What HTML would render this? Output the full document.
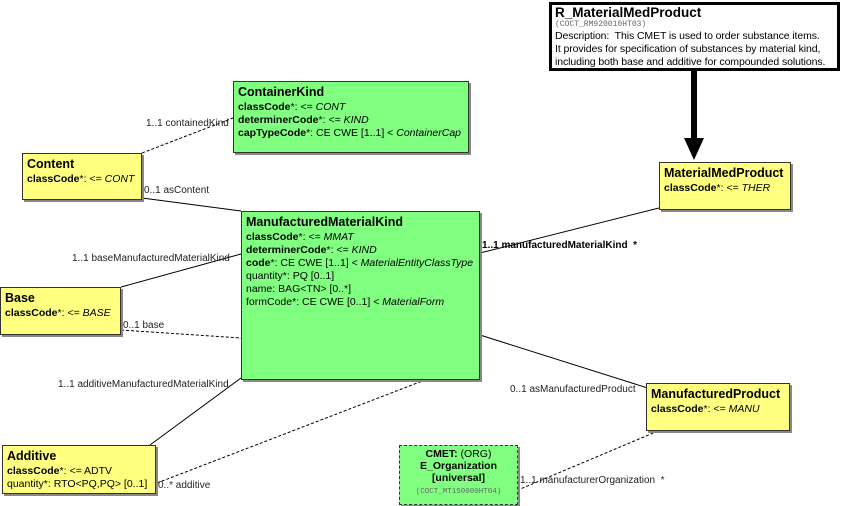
<!DOCTYPE html>
<html><head><meta charset="utf-8"><style>
body{margin:0;width:844px;height:506px;background:#fff;position:relative;overflow:hidden;font-family:"Liberation Sans",Arial,sans-serif;font-size:10.5px;color:#000}
.b{position:absolute;box-sizing:border-box;border:1px solid #333;padding:2px 4px;line-height:13px;box-shadow:2px 2px 0 #888}
.y{background:#ffff80}.g{background:#80ff80}
.t{font-weight:bold;font-size:12.5px;line-height:17px}
.l{position:absolute;font-size:10px;white-space:nowrap;color:#222}
i{font-style:italic}
svg{position:absolute;left:0;top:0}
</style></head><body>
<svg width="844" height="506">
<g stroke="#000" stroke-width="1" fill="none">
<line x1="142" y1="153" x2="233" y2="118" stroke-dasharray="3,2"/>
<line x1="142" y1="198" x2="241" y2="211"/>
<line x1="121" y1="287" x2="241" y2="254"/>
<line x1="121" y1="330" x2="241" y2="338" stroke-dasharray="3,2"/>
<line x1="150" y1="445" x2="241" y2="378"/>
<line x1="157" y1="483" x2="425" y2="380" stroke-dasharray="3,2"/>
<line x1="480" y1="253" x2="659" y2="208"/>
<line x1="480" y1="335" x2="654" y2="390"/>
<line x1="658" y1="431" x2="518" y2="490" stroke-dasharray="3,2"/>
<line x1="694" y1="71" x2="694" y2="140" stroke-width="6"/>
</g>
<polygon points="684,138 704,138 694,160" fill="#000"/>
</svg>

<div class="b" style="left:549px;top:2px;width:291px;height:69px;border:3px solid #000;background:#fff;padding:0 3px;line-height:13px;box-shadow:none;font-size:10.5px">
<div class="t" style="font-size:13.5px;line-height:15px">R_MaterialMedProduct</div>
<div style="font-family:'Liberation Mono',monospace;font-size:8px;color:#666;line-height:10px">(COCT_RM920010HT03)</div>
<div style="letter-spacing:-0.1px">Description:&nbsp; This CMET is used to order substance items.<br>It provides for specification of substances by material kind,<br>including both base and additive for compounded solutions.</div>
</div>

<div class="b y" style="left:659px;top:162px;width:132px;height:48px"><div class="t">MaterialMedProduct</div><b>classCode</b>*: &lt;= <i>THER</i></div>

<div class="b g" style="left:233px;top:81px;width:236px;height:72px"><div class="t">ContainerKind</div><b>classCode</b>*: &lt;= <i>CONT</i><br><b>determinerCode</b>*: &lt;= <i>KIND</i><br><b>capTypeCode</b>*: CE CWE [1..1] &lt; <i>ContainerCap</i></div>

<div class="b y" style="left:22px;top:153px;width:120px;height:47px"><div class="t">Content</div><b>classCode</b>*: &lt;= <i>CONT</i></div>

<div class="b g" style="left:241px;top:211px;width:239px;height:169px"><div class="t">ManufacturedMaterialKind</div><b>classCode</b>*: &lt;= <i>MMAT</i><br><b>determinerCode</b>*: &lt;= <i>KIND</i><br><b>code</b>*: CE CWE [1..1] &lt; <i>MaterialEntityClassType</i><br>quantity*: PQ [0..1]<br>name: BAG&lt;TN&gt; [0..*]<br>formCode*: CE CWE [0..1] &lt; <i>MaterialForm</i></div>

<div class="b y" style="left:0px;top:287px;width:121px;height:48px"><div class="t">Base</div><b>classCode</b>*: &lt;= <i>BASE</i></div>

<div class="b y" style="left:2px;top:445px;width:154px;height:49px"><div class="t">Additive</div><b>classCode</b>*: &lt;= ADTV<br>quantity*: RTO&lt;PQ,PQ&gt; [0..1]</div>

<div class="b y" style="left:646px;top:383px;width:144px;height:48px"><div class="t">ManufacturedProduct</div><b>classCode</b>*: &lt;= <i>MANU</i></div>

<div class="b g" style="left:399px;top:445px;width:119px;height:60px;border:1px dashed #333;text-align:center;padding:2px 0;line-height:12px"><b>CMET:</b> (ORG)<br><b>E_Organization</b><br><b>[universal]</b><br><span style="font-family:'Liberation Mono',monospace;font-size:7.5px;color:#666">(COCT_MT150000HT04)</span></div>

<div class="l" style="left:146px;top:118px">1..1 containedKind</div>
<div class="l" style="left:144px;top:185px">0..1 asContent</div>
<div class="l" style="left:72px;top:253px">1..1 baseManufacturedMaterialKind</div>
<div class="l" style="left:123px;top:320px">0..1 base</div>
<div class="l" style="left:58px;top:379px">1..1 additiveManufacturedMaterialKind</div>
<div class="l" style="left:158px;top:480px">0..* additive</div>
<div class="l" style="left:482px;top:240px;font-weight:bold;color:#000">1..1 manufacturedMaterialKind&nbsp; *</div>
<div class="l" style="left:510px;top:384px">0..1 asManufacturedProduct</div>
<div class="l" style="left:520px;top:475px">1..1 manufacturerOrganization&nbsp; *</div>
</body></html>
